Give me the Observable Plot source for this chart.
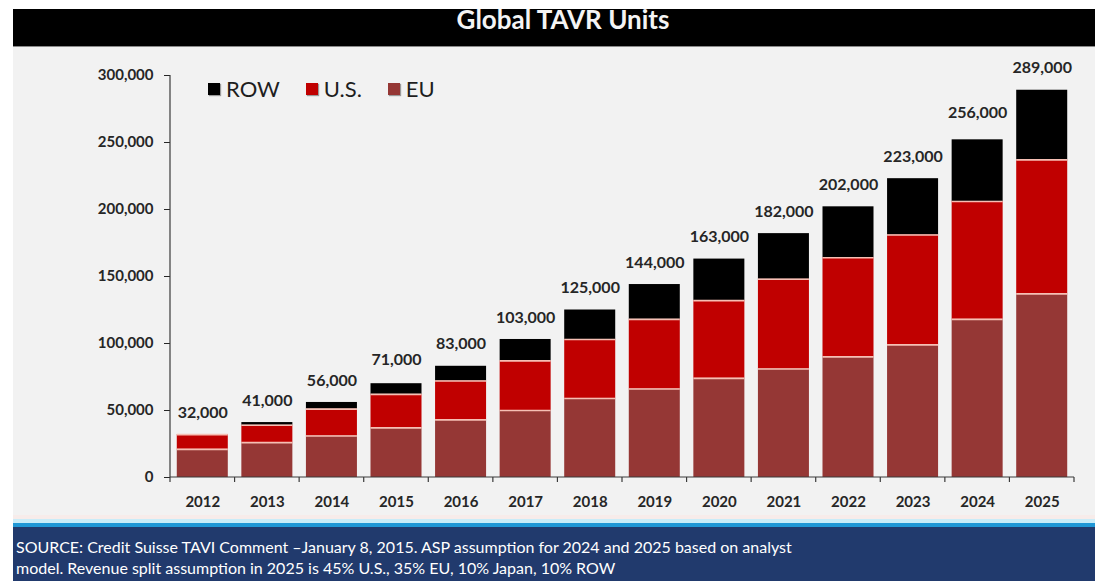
<!DOCTYPE html>
<html>
<head>
<meta charset="utf-8">
<script src="https://cdn.jsdelivr.net/npm/d3@7"></script>
<script src="https://cdn.jsdelivr.net/npm/@observablehq/plot@0.6"></script>
<style>
  html, body { margin: 0; padding: 0; background: #ffffff; }
  body { width: 1095px; height: 581px; position: relative; overflow: hidden; font-family: Lato, "Noto Sans", sans-serif; }
  #titlebar { position: absolute; left: 13px; top: 9px; width: 1082px; height: 37px; background: #000; border-bottom: 1px solid #8a8a8a; }
  #title { position: absolute; left: 13px; width: 1082px; top: 6px; text-align: center; color: #f4f4f4; font-weight: 700; font-size: 26px; line-height: 26px; padding-left: 18px; box-sizing: border-box; }
  #chart { position: absolute; left: 13px; top: 47px; width: 1082px; height: 472px; background: #f2f2f2; }
  #legend { position: absolute; left: 208px; top: 76px; display: flex; align-items: center; font-size: 22px; color: #1e1e1e; line-height: 26px; }
  .item { display: flex; align-items: center; margin-right: 26px; }
  .sw { width: 12px; height: 12px; margin-right: 6px; box-shadow: 1px 1px 1px #9a9a9a; }
  #strip1 { position: absolute; left: 13px; top: 515px; width: 1082px; height: 4px; background: #f7ecea; }
  #strip2 { position: absolute; left: 13px; top: 519px; width: 1082px; height: 4px; background: #c9ecf8; }
  #strip3 { position: absolute; left: 13px; top: 523px; width: 1082px; height: 4px; background: #1f97d6; }
  #footer { position: absolute; left: 13px; top: 527px; width: 1082px; height: 54px; background: #213a6d; color: #ffffff; font-size: 16px; line-height: 21px; box-sizing: border-box; padding: 9px 0 0 3px; }
  svg text { font-family: Lato, "Noto Sans", sans-serif; }
  g[aria-label="x-axis tick label"] text, g[aria-label="y-axis tick label"] text { font-weight: 700; }
</style>
</head>
<body>
<div id="titlebar"></div>
<div id="title">Global TAVR Units</div>
<div id="chart"></div>
<div id="legend"></div>
<div id="strip1"></div>
<div id="strip2"></div>
<div id="strip3"></div>
<div id="footer">SOURCE: Credit Suisse TAVI Comment –January 8, 2015. ASP assumption for 2024 and 2025 based on analyst<br>model. Revenue split assumption in 2025 is 45% U.S., 35% EU, 10% Japan, 10% ROW</div>
<script>
const years = ["2012","2013","2014","2015","2016","2017","2018","2019","2020","2021","2022","2023","2024","2025"];
const eu  = [21000, 26000, 31000, 37000, 43000, 50000, 59000, 66000, 74000, 81000, 90000, 99000, 118000, 137000];
const us  = [11000, 13000, 20000, 25000, 29000, 37000, 44000, 52000, 58000, 67000, 74000, 82000, 88000, 100000];
const row = [0, 2000, 5000, 8000, 11000, 16000, 22000, 26000, 31000, 34000, 38000, 42000, 46000, 52000];
const totals = [32000, 41000, 56000, 71000, 83000, 103000, 125000, 144000, 163000, 182000, 202000, 223000, 256000, 289000];
const yTicks = [0, 50000, 100000, 150000, 200000, 250000, 300000];
const stackOrder = ["EU", "U.S.", "ROW"];
const stackColors = ["#953735", "#c00000", "#000000"];
const legendOrder = ["ROW", "U.S.", "EU"];

const data = years.flatMap((yr, i) => [
  {year: yr, region: "EU", value: eu[i]},
  {year: yr, region: "U.S.", value: us[i]},
  {year: yr, region: "ROW", value: row[i]}
]);
const bounds = years.flatMap((yr, i) => [
  {year: yr, value: eu[i]},
  {year: yr, value: eu[i] + us[i]}
]);
const labels = years.map((yr, i) => ({year: yr, total: totals[i]}));
const fmt = d3.format(",");

const plot = Plot.plot({
  width: 1082,
  height: 472,
  marginLeft: 157,
  marginRight: 21,
  marginTop: 28,
  marginBottom: 42,
  style: {background: "transparent", fontFamily: "Lato, 'Noto Sans', sans-serif", color: "#262626"},
  x: {domain: years, paddingInner: 0.21, paddingOuter: 0.105, round: false, label: null},
  y: {domain: [0, 300000], label: null},
  color: {domain: stackOrder, range: stackColors},
  marks: [
    Plot.barY(data, {x: "year", y: "value", fill: "region"}),
    Plot.tickY(bounds, {x: "year", y: "value", stroke: "#f6bfb4", strokeWidth: 1.6}),
    Plot.text(labels, {x: "year", y: "total", text: d => fmt(d.total), dy: -22, fontSize: 16, fontWeight: "bold", fill: "#262626"}),
    Plot.axisY({ticks: yTicks, tickFormat: fmt, tickSize: 6, tickPadding: 11, fontSize: 15, label: null}),
    Plot.axisX({tickSize: 0, tickPadding: 19, fontSize: 15, label: null})
  ]
});

// axis lines and band-boundary ticks from the plot's own scales
const xs = plot.scale("x");
const ys = plot.scale("y");
const svg = d3.select(plot);
const y0 = ys.apply(0);
const yTop = ys.apply(300000);
const gap = (xs.step - xs.bandwidth) / 2;
const edges = years.map(d => xs.apply(d) - gap);
edges.push(xs.apply(years[years.length - 1]) + xs.bandwidth + gap);
const g = svg.append("g").attr("stroke", "#3a3a3a").attr("stroke-width", 1.2);
g.append("line").attr("x1", edges[0]).attr("x2", edges[0]).attr("y1", yTop).attr("y2", y0);
g.append("line").attr("x1", edges[0]).attr("x2", edges[edges.length - 1]).attr("y1", y0).attr("y2", y0);
g.selectAll("line.t").data(edges).join("line").attr("class", "t")
  .attr("x1", d => d).attr("x2", d => d).attr("y1", y0).attr("y2", y0 + 5);

document.getElementById("chart").appendChild(plot);

const legend = document.getElementById("legend");
legendOrder.forEach(name => {
  const item = document.createElement("div");
  item.className = "item";
  const sw = document.createElement("div");
  sw.className = "sw";
  sw.style.background = stackColors[stackOrder.indexOf(name)];
  const lab = document.createElement("span");
  lab.textContent = name;
  item.appendChild(sw);
  item.appendChild(lab);
  legend.appendChild(item);
});
</script>
</body>
</html>
